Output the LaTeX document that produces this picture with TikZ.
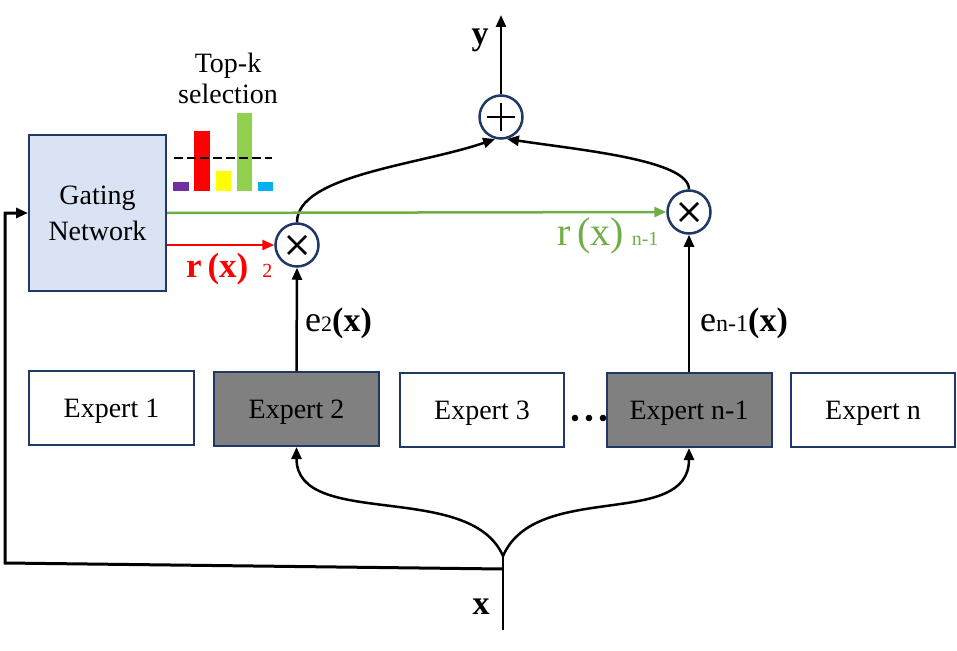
\documentclass[tikz,border=0pt]{standalone}
\usepackage{fontspec}
\setmainfont{Liberation Serif}
\usetikzlibrary{arrows.meta,calc}
\definecolor{navy}{RGB}{31,56,100}
\definecolor{gatefill}{RGB}{218,227,243}
\definecolor{expgray}{RGB}{128,128,128}
\definecolor{rred}{RGB}{255,0,0}
\definecolor{rgreen}{RGB}{112,173,71}
\definecolor{barpurple}{RGB}{112,48,160}
\definecolor{baryellow}{RGB}{255,255,0}
\definecolor{bargreen}{RGB}{146,208,80}
\definecolor{barcyan}{RGB}{0,176,240}
\newcommand{\fsz}[2]{\fontsize{#1}{#2}\selectfont}
\begin{document}
\begin{tikzpicture}[x=1pt,y=-1pt,
  expbox/.style={draw=navy,line width=2pt,minimum width=165pt,minimum height=74pt,inner sep=0pt,text depth=0pt,font=\fsz{28}{34}},
  gatebox/.style={draw=navy,fill=gatefill,line width=2pt,minimum width=137pt,minimum height=156pt,inner sep=0pt,align=center,font=\fsz{28}{36}},
  opnode/.style={circle,draw=navy,line width=2.5pt,minimum size=43pt,inner sep=0pt},
  mult/.style={opnode,path picture={
     \draw[black,line width=2.5pt] ([shift={(-9pt,-9pt)}]path picture bounding box.center) -- ([shift={(9pt,9pt)}]path picture bounding box.center);
     \draw[black,line width=2.5pt] ([shift={(-9pt,9pt)}]path picture bounding box.center) -- ([shift={(9pt,-9pt)}]path picture bounding box.center);}},
  plusop/.style={opnode,path picture={
     \draw[black,line width=2.5pt] ([shift={(-14pt,0pt)}]path picture bounding box.center) -- ([shift={(14pt,0pt)}]path picture bounding box.center);
     \draw[black,line width=2.5pt] ([shift={(0pt,-14pt)}]path picture bounding box.center) -- ([shift={(0pt,14pt)}]path picture bounding box.center);}},
  conn/.style={line width=2.5pt},
  arr/.style={line width=2.5pt,-{Triangle[length=12pt,width=10pt]}},
  lbl/.style={anchor=base west,inner sep=0pt}
]
\useasboundingbox (0,0) rectangle (957,650);

% gating network
\node[gatebox] (gate) at (97.5,213) {Gating\\Network};

% experts
\node[expbox] (e1) at (111.5,408) {Expert 1};
\node[expbox,fill=expgray] (e2) at (296.5,409) {Expert 2};
\node[expbox,minimum width=164pt] (e3) at (482,410) {Expert 3};
\node[expbox,fill=expgray] (en1) at (689,410) {Expert n-1};
\node[expbox,minimum width=164pt] (en) at (873,410) {Expert n};
\fill (575,418) circle (3.3);
\fill (589,418) circle (3.3);
\fill (603,418) circle (3.3);

% operators
\node[mult] (m1) at (297,245) {};
\node[mult] (m2) at (689,212) {};
\node[plusop] (plus) at (501,117) {};

% top-k bars
\fill[barpurple] (173,182) rectangle (189,191);
\fill[rred] (194,131) rectangle (210,191);
\fill[baryellow] (216,171) rectangle (231,191);
\fill[bargreen] (237,113) rectangle (252,191);
\fill[barcyan] (258,182) rectangle (273,191);
\draw[line width=2.7pt,dash pattern=on 9pt off 4pt] (174,158) -- (272,158);
\node[align=center,inner sep=0pt,font=\fsz{28}{31}] (topk) at (228,78) {Top-k\\selection};

% coordinates
\coordinate (yend) at (501,15);
\coordinate (xin) at (503,630);
\coordinate (split) at (503,556);
\coordinate (fbj) at (503,569);
\coordinate (fbc) at (5,563);

% connectors
\draw[arr] (e2.north) -- (m1.south);
\draw[arr] (en1.north) -- (m2.south);
\draw[arr] (m1.north) .. controls (297,175) and (420,165) .. (plus.-105);
\draw[arr] (m2.north) .. controls (689,160) and (580,150) .. (plus.-75);
\draw[arr] (plus.north) -- (yend);
\draw[arr,rred] (gate.east |- m1.west) -- (m1.west);
\draw[arr,rgreen] (gate.east) -- (m2.west);
\draw[conn] (xin) -- (split);
\draw[arr] (split) .. controls (470,480) and (296.5,530) .. (e2.south);
\draw[arr] (split) .. controls (536,480) and (689,530) .. (en1.south);
\draw[arr,line width=3pt] (fbj) -- (fbc) |- (gate.west);

% labels
\node[font=\fsz{34}{40}\bfseries,inner sep=0pt] (ylab) at (480,40) {y};
\node[font=\fsz{34}{40}\bfseries,inner sep=0pt] (xlab) at (481,607) {x};
\node[lbl] (le2) at (305,331) {\fsz{36}{40}e\fsz{22}{26}2\fsz{34}{40}\bfseries(x)};
\node[lbl] (len1) at (700,331) {\fsz{36}{40}e\fsz{24}{28}n-1\fsz{34}{40}\bfseries(x)};
\node[lbl,text=rred] (lr2) at (186,277) {\fsz{35}{40}\bfseries r\,(x)\hspace{14pt}\fsz{20}{24}\mdseries 2};
\node[lbl,text=rgreen] (lrn1) at (557,245) {\fsz{40}{44}r\,(x)\hspace{8pt}\fsz{20}{24}n-1};
\end{tikzpicture}
\end{document}
